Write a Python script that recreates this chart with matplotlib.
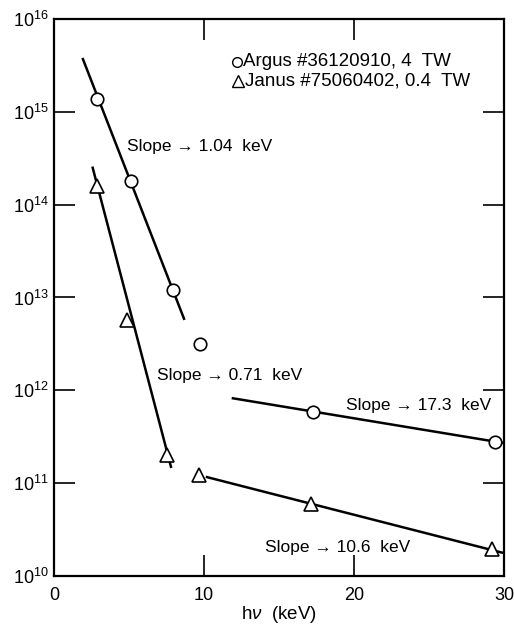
import numpy as np
import matplotlib
matplotlib.use("Agg")
import matplotlib.pyplot as plt
from matplotlib.ticker import LogLocator, NullLocator

plt.rcParams["font.family"] = ["Liberation Sans", "DejaVu Sans"]
plt.rcParams["mathtext.fontset"] = "custom"
plt.rcParams["mathtext.rm"] = "Liberation Sans"
plt.rcParams["mathtext.it"] = "Liberation Sans:italic"
plt.rcParams["mathtext.default"] = "regular"

# measured points
argus_x = [2.87, 5.13, 7.93, 9.73, 17.3, 29.4]
argus_y = [1.37e15, 1.8e14, 1.2e13, 3.15e12, 5.8e11, 2.77e11]
janus_x = [2.87, 4.87, 7.53, 9.67, 17.13, 29.2]
janus_y = [1.6e14, 5.7e12, 2.0e11, 1.22e11, 5.9e10, 1.95e10]

# fitted slopes (end points of drawn lines)
argus_fit1_x = [1.93, 8.67]
argus_fit1_y = [3.7e15, 5.9e12]
argus_fit2_x = [11.93, 30.0]
argus_fit2_y = [8.2e11, 2.7e11]
janus_fit1_x = [2.58, 7.8]
janus_fit1_y = [2.5e14, 1.5e11]
janus_fit2_x = [10.2, 30.0]
janus_fit2_y = [1.16e11, 1.76e10]

slope_labels = ["Slope \u2192 1.04  keV", "Slope \u2192 0.71  keV",
                "Slope \u2192 17.3  keV", "Slope \u2192 10.6  keV"]
slope_x = [4.87, 6.87, 19.5, 14.07]
slope_y = [4.2e14, 1.45e12, 6.9e11, 2.04e10]

fig = plt.figure(figsize=(5.14, 6.26), dpi=100)
ax = fig.add_axes([0.105, 0.08, 0.8755, 0.8896])

lw = 1.8
for fx, fy in [(argus_fit1_x, argus_fit1_y), (argus_fit2_x, argus_fit2_y),
               (janus_fit1_x, janus_fit1_y), (janus_fit2_x, janus_fit2_y)]:
    ax.plot(fx, fy, color="black", lw=lw, zorder=2)

ax.plot(argus_x, argus_y, "o", ms=9, mfc="white", mec="black", mew=1.2,
        ls="none", zorder=3)
ax.plot(janus_x, janus_y, "^", ms=10, mfc="white", mec="black", mew=1.2,
        ls="none", zorder=3)

ax.set_yscale("log")
ax.set_xlim(0, 30)
ax.set_ylim(1e10, 1e16)
ax.set_xticks([0, 10, 20, 30])
ax.yaxis.set_major_locator(LogLocator(base=10, numticks=10))
ax.yaxis.set_minor_locator(NullLocator())
ax.tick_params(which="major", direction="in", length=15, width=1.2,
               top=True, right=True, labelsize=13)
ax.tick_params(axis="x", pad=8)
ax.tick_params(axis="y", pad=3.5)
for s in ax.spines.values():
    s.set_linewidth(1.6)

ax.set_xlabel(r"h$\mathit{\nu}$  (keV)", fontsize=13.5, labelpad=0)

for lab, tx, ty in zip(slope_labels, slope_x, slope_y):
    ax.text(tx, ty, lab, fontsize=12.5, va="center", ha="left")

# legend drawn by hand
ax.plot([12.23], [3.48e15], "o", ms=7, mfc="white", mec="black", mew=1.0,
        clip_on=False)
ax.text(12.6, 3.48e15, "Argus #36120910, 4  TW", fontsize=13.5, va="center")
ax.plot([12.27], [2.15e15], "^", ms=8, mfc="white", mec="black", mew=1.0,
        clip_on=False)
ax.text(12.73, 2.15e15, "Janus #75060402, 0.4  TW", fontsize=13.5, va="center")

fig.savefig("out.png", dpi=100)
